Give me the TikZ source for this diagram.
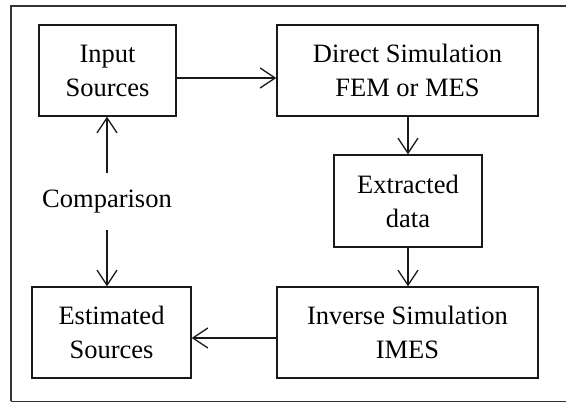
\documentclass[tikz,border=0pt]{standalone}
\usepackage{fontspec}
\setmainfont{Liberation Serif}
\usetikzlibrary{arrows.meta}
\begin{document}
\begin{tikzpicture}[x=1pt,y=-1pt,
  box/.style={draw=black!90,line width=1.4pt,align=center,inner sep=0pt,
    font=\fontsize{26.5}{34}\selectfont},
  lbl/.style={align=center,inner sep=0pt,font=\fontsize{26.5}{34}\selectfont},
  arr/.style={draw=black!90,line width=1.3pt,-{Straight Barb[length=15pt,width=20pt,line width=1.3pt]}}]
\useasboundingbox (0,0) rectangle (566,403);
\draw[black!80,line width=1.6pt] (11,401.5) -- (11,6) -- (575,6);
\draw[black!80,line width=1.6pt] (11,401.5) -- (575,401.5);
\node[box,minimum width=137pt,minimum height=91pt] (in) at (107.5,70.5) {Input\\Sources};
\node[box,minimum width=261pt,minimum height=91pt] (direct) at (407.5,70.5) {Direct Simulation\\FEM or MES};
\node[box,minimum width=148pt,minimum height=92pt] (extr) at (408,201) {Extracted\\data};
\node[box,minimum width=159pt,minimum height=91pt] (est) at (111.5,332.5) {Estimated\\Sources};
\node[box,minimum width=261pt,minimum height=91pt] (inv) at (407.5,332.5) {Inverse Simulation\\IMES};
\node[lbl,minimum height=57pt] (cmp) at (107,201.5) {Comparison};
\draw[arr] ([yshift=-7.5pt]in.east) -- ([yshift=-7.5pt]direct.west);
\draw[arr] (direct.south -| extr.north) -- (extr.north);
\draw[arr] (extr.south) -- (extr.south |- inv.north);
\draw[arr] ([yshift=-5.5pt]inv.west) -- ([yshift=-5.5pt]est.east);
\draw[arr] (cmp.north) -- (cmp.north |- in.south);
\draw[arr] (cmp.south) -- (cmp.south |- est.north);
\end{tikzpicture}
\end{document}
